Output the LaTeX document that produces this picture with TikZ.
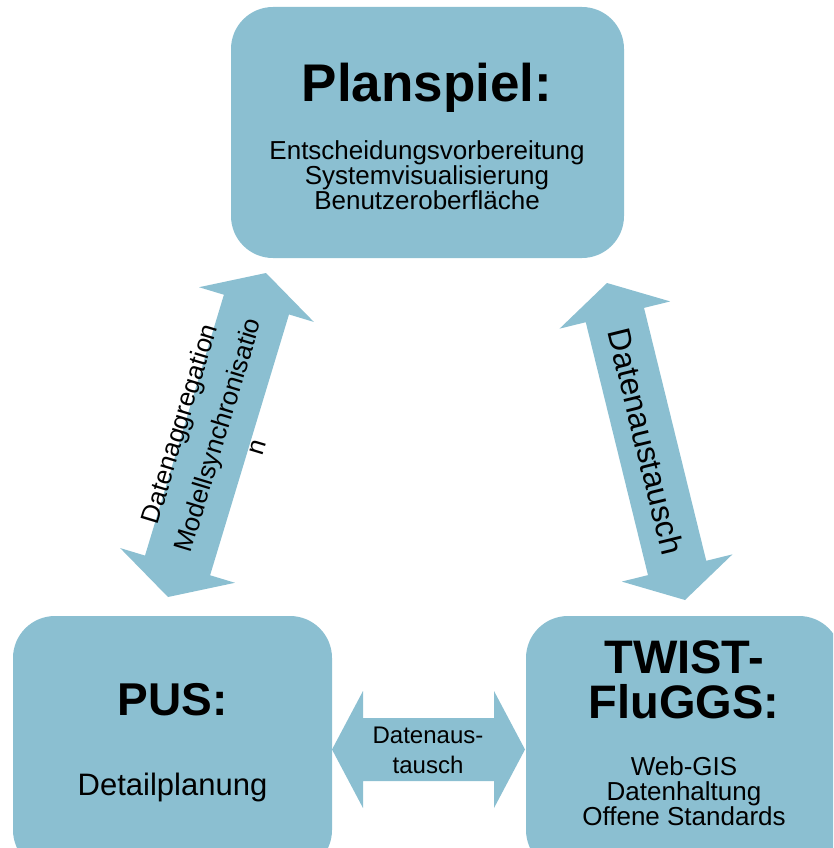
\documentclass[tikz,border=0pt]{standalone}
\usepackage{fontspec}
\setmainfont{Liberation Sans}
\usetikzlibrary{calc}
\definecolor{boxblue}{RGB}{139,191,209}
\newcommand\blockarrow[5]{%
  \fill[boxblue] (#1)
    -- ($(#1)!#3!(#2)!#4!90:(#2)$)
    -- ($(#1)!#3!(#2)!#5!90:(#2)$)
    -- ($(#2)!#3!(#1)!#5!-90:(#1)$)
    -- ($(#2)!#3!(#1)!#4!-90:(#1)$)
    -- (#2)
    -- ($(#2)!#3!(#1)!#4!90:(#1)$)
    -- ($(#2)!#3!(#1)!#5!90:(#1)$)
    -- ($(#1)!#3!(#2)!#5!-90:(#2)$)
    -- ($(#1)!#3!(#2)!#4!-90:(#2)$)
    -- cycle;}
\tikzset{
  box/.style={fill=boxblue, rounded corners=42pt, inner sep=0pt},
  title/.style={font=\fontsize{#1}{#1}\selectfont\bfseries, anchor=base, inner sep=0pt},
  body/.style={font=\fontsize{#1}{#1}\selectfont, anchor=base, inner sep=0pt},
}
\begin{document}
\begin{tikzpicture}[x=1pt, y=-1pt]
\useasboundingbox (0,0) rectangle (833,848);
\clip (0,0) rectangle (833,848);
% boxes
\node[box, minimum width=393pt, minimum height=251pt] (plan) at (427.5,132.5) {};
\node[box, minimum width=319pt, minimum height=256pt] (pus) at (172.5,744) {};
\node[box, minimum width=315pt, minimum height=256pt] (twist) at (683.5,744) {};
% arrow tips
\coordinate (l1) at (168,597);
\coordinate (l2) at (266,273);
\coordinate (r1) at (607,283);
\coordinate (r2) at (685,600);
\coordinate (b1) at (332,749.5);
\coordinate (b2) at (525,749.5);
\blockarrow{l1}{l2}{33pt}{60pt}{34pt}
\blockarrow{r1}{r2}{33pt}{57pt}{30pt}
\blockarrow{b1}{b2}{31pt}{58.5pt}{31.5pt}
% texts top box
\node[title=53] (plant) at (427,102) {Planspiel:};
\node[body=26] (p1) at (427,159) {Entscheidungsvorbereitung};
\node[body=26] (p2) at (427,184) {Systemvisualisierung};
\node[body=26] (p3) at (427,209) {Benutzeroberfläche};
% PUS
\node[title=46] (pust) at (172.5,715) {PUS:};
\node[body=31] (pus1) at (172.5,795) {Detailplanung};
% TWIST
\node[title=47] (tw1) at (684,673) {TWIST-};
\node[title=47] (tw2) at (684,718) {FluGGS:};
\node[body=26] (tw3) at (684,775) {Web-GIS};
\node[body=26] (tw4) at (684,800) {Datenhaltung};
\node[body=26] (tw5) at (684,825) {Offene Standards};
% arrow labels
\node[body=24] (bl1) at (428,743) {Datenaus-};
\node[body=24] (bl2) at (428,773) {tausch};
\node[font=\fontsize{26}{40}\selectfont, align=center, inner sep=0pt, rotate=73.17] (ll) at ($(l1)!0.5!(l2)$) {Datenaggregation\\Modellsynchronisatio\\n};
\node[font=\fontsize{32}{32}\selectfont, inner sep=0pt, rotate=-76.18] (rl) at ($(r1)!0.5!(r2)$) {Datenaustausch};
\end{tikzpicture}
\end{document}
